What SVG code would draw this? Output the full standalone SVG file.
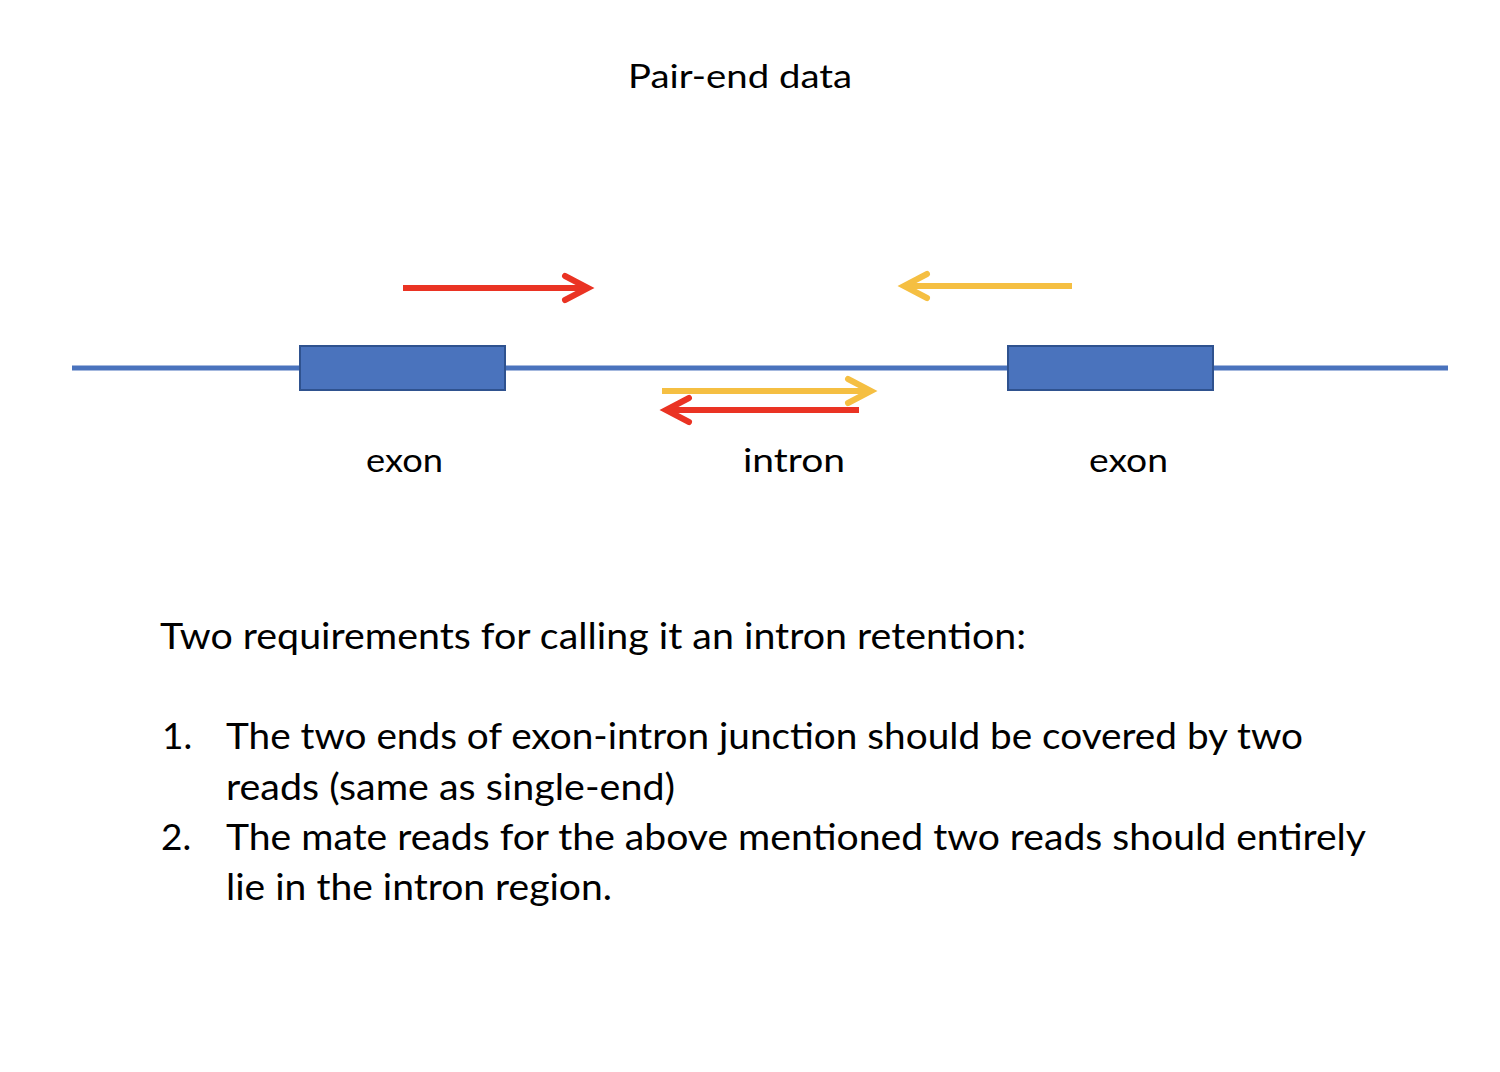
<svg xmlns="http://www.w3.org/2000/svg" width="1500" height="1072" viewBox="0 0 1500 1072">
<style>
text{font-family:Lato,"Open Sans","Liberation Sans",sans-serif;fill:#000}
.t{font-size:32px}
.b{font-size:37px}
.exon{fill:#4A73BD;stroke:#2F528F;stroke-width:2}
.red{stroke:#EA3323;stroke-width:6;fill:none}
.yel{stroke:#F5BF42;stroke-width:6;fill:none}
.head{stroke-linecap:round;stroke-linejoin:miter}
</style>
<rect width="1500" height="1072" fill="#fff"/>
<g id="title"><text class="t" x="628" y="88" textLength="224" lengthAdjust="spacingAndGlyphs">Pair-end data</text></g>
<g id="gene">
<line x1="72" y1="368" x2="1448" y2="368" stroke="#4A73BD" stroke-width="5"/>
</g>
<g id="exon1"><rect class="exon" x="300" y="346" width="205" height="44"/><text class="t" x="366" y="472" textLength="77" lengthAdjust="spacingAndGlyphs">exon</text></g>
<g id="exon2"><rect class="exon" x="1008" y="346" width="205" height="44"/><text class="t" x="1089" y="472" textLength="79" lengthAdjust="spacingAndGlyphs">exon</text></g>
<g id="intron"><text class="t" x="743" y="472" textLength="102" lengthAdjust="spacingAndGlyphs">intron</text></g>
<g id="connectors">
<g id="read-red-top"><line class="red" x1="403" y1="288" x2="586" y2="288"/><polyline class="red head" points="565,276 588,288 565,300"/></g>
<g id="read-yellow-top"><line class="yel" x1="1072" y1="286" x2="906" y2="286"/><polyline class="yel head" points="927,274 904,286 927,298"/></g>
<g id="read-yellow-bottom"><line class="yel" x1="662" y1="391" x2="869" y2="391"/><polyline class="yel head" points="848,379 871,391 848,403"/></g>
<g id="read-red-bottom"><line class="red" x1="859" y1="410" x2="668" y2="410"/><polyline class="red head" points="689,398 666,410 689,422"/></g>
</g>
<g id="requirements">
<text class="b" x="160" y="649" textLength="866" lengthAdjust="spacingAndGlyphs">Two requirements for calling it an intron retention:</text>
<text class="b" x="162" y="749">1.</text>
<text class="b" x="226" y="749" textLength="1077" lengthAdjust="spacingAndGlyphs">The two ends of exon-intron junction should be covered by two</text>
<text class="b" x="226" y="800" textLength="449" lengthAdjust="spacingAndGlyphs">reads (same as single-end)</text>
<text class="b" x="161" y="850">2.</text>
<text class="b" x="226" y="850" textLength="1140" lengthAdjust="spacingAndGlyphs">The mate reads for the above mentioned two reads should entirely</text>
<text class="b" x="226" y="900" textLength="386" lengthAdjust="spacingAndGlyphs">lie in the intron region.</text>
</g>
</svg>
